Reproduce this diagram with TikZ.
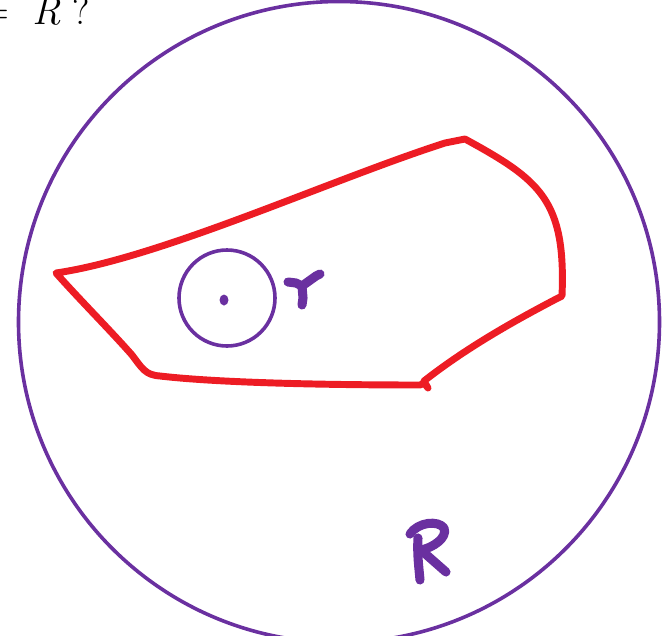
\documentclass[tikz,border=0pt]{standalone}
\usepackage{fontspec}
\usepackage{tikz}
\usetikzlibrary{positioning, calc}
\usepackage{xcolor}
\definecolor{inkpurple}{HTML}{6A30A0}
\definecolor{inkred}{HTML}{ED1C24}

\begin{document}
\begin{tikzpicture}[
    x=0.75pt, y=-0.75pt,
    ring/.style={draw=inkpurple, line width=2.7pt},
    hull/.style={draw=inkred, line width=5.2pt, line cap=round, line join=round},
    pen/.style={draw=inkpurple, line width=6.8pt, line cap=round, line join=round},
    question/.style={inner sep=0pt}
  ]
    \useasboundingbox (0,0) rectangle (672,636);
    \clip (0,0) rectangle (672,636);

    % heading, cut off at the top
    \node[question, anchor=base west] (ask) at (-20,24)
        {\fontsize{30}{36}\selectfont =\hspace{0.58em}\textit{R}\hspace{0.3em}?};

    % outer and inner discs
    \node[ring, circle, minimum size=641*0.75pt, inner sep=0pt] (big) at (339,322) {};
    \node[ring, circle, minimum size=96*0.75pt, inner sep=0pt] (small) at (227,298) {};
    \fill[inkpurple] (224,300) ellipse (4.5 and 5.5);

    % red region
    \coordinate (tip) at (56,273);
    \coordinate (peak) at (465,139);
    \coordinate (hook) at (562,296);
    \coordinate (knot) at (424,381);
    \draw[hull] (tip) .. controls (160,258) and (330,180) .. (445,143)
        -- (peak) .. controls (540,180) and (566,200) .. (hook)
        -- (558,298) .. controls (520,318) and (470,345) .. (knot)
        -- (428,388) -- (424,383)
        -- (420,385) .. controls (330,385) and (220,383) .. (160,376)
        .. controls (145,375) and (142,368) .. (132,355)
        .. controls (110,330) and (80,300) .. cycle;

    % handwritten r
    \draw[pen] (288,282) -- (296,283) -- (302,286) -- (316,276) -- (320,274);
    \draw[pen] (302,286) -- (303,298) -- (302,305);

    % handwritten R
    \draw[pen] (418,538) .. controls (417,555) and (419,568) .. (420,580);
    \draw[pen] (410,534) .. controls (418,522) and (438,520) .. (444,528)
        .. controls (448,538) and (432,548) .. (421,550)
        -- (446,572);
  \end{tikzpicture}
\end{document}
